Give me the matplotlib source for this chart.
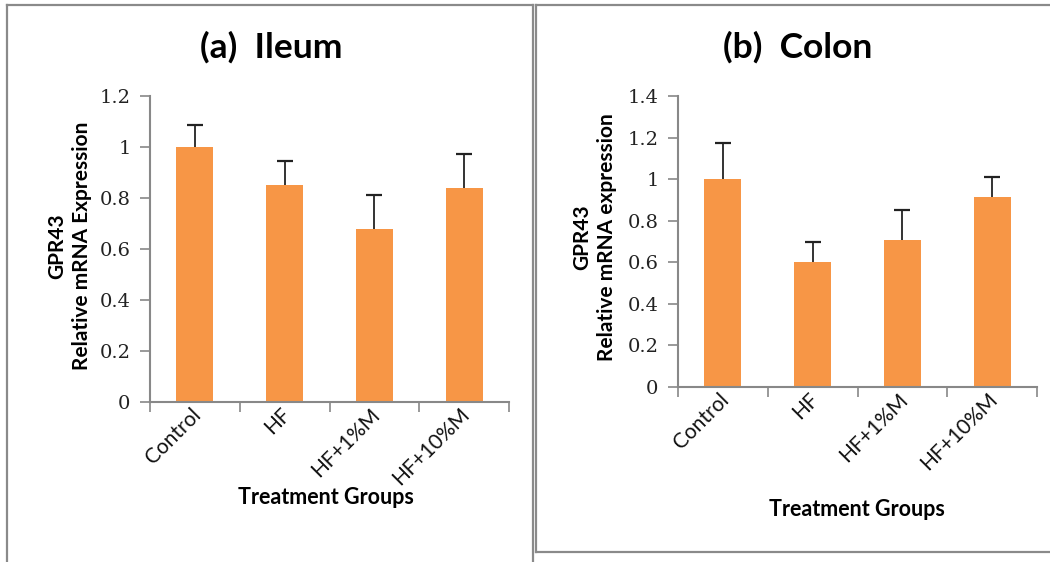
import numpy as np
import matplotlib
matplotlib.use("Agg")
import matplotlib.pyplot as plt
from matplotlib.lines import Line2D

groups = ["Control", "HF", "HF+1%M", "HF+10%M"]

ileum_mean = [1.00, 0.85, 0.68, 0.84]
ileum_err = [0.085, 0.095, 0.133, 0.132]

colon_mean = [1.00, 0.60, 0.707, 0.914]
colon_err = [0.172, 0.10, 0.143, 0.095]

BAR = "#F79646"
GRID = "#888888"
W, H = 1050, 562
SANS = ["Lato", "DejaVu Sans"]
SERIF = ["DejaVu Serif"]


def fx(px):
    return px / W


def fy(py):
    return 1 - py / H


fig = plt.figure(figsize=(10.5, 5.62), dpi=100)


def panel(rect, means, errs, ymax, title, ylab, tcx, lx, ly, xlx, xly):
    ax = fig.add_axes(rect)
    x = np.arange(len(groups))
    means = np.array(means)
    errs = np.array(errs)
    ax.bar(x, means, width=0.41, color=BAR, zorder=2)
    # plus-only error bars, Excel style
    ax.vlines(x, means, means + errs, color="#333333", lw=1.4, zorder=3)
    ax.plot(x, means + errs, ls="none", marker="_", ms=11, mew=1.6,
            color="#222222", zorder=3)
    ax.set_xlim(-0.5, len(groups) - 0.5)
    ax.set_ylim(0, ymax)
    ticks = np.arange(0, ymax + 0.001, 0.2)
    ax.set_yticks(ticks)
    ax.set_yticklabels(["0" if v == 0 else ("1" if abs(v - 1) < 1e-9 else f"{v:.1f}")
                        for v in ticks],
                       family=SERIF, fontsize=14, color="#222222")
    ax.tick_params(axis="y", length=7, width=1.2, color=GRID, pad=7)
    # boundary ticks on x, category labels without ticks
    ax.set_xticks(np.arange(-0.5, len(groups)))
    ax.set_xticklabels([])
    ax.tick_params(axis="x", length=7, width=1.2, color=GRID)
    for i, g in enumerate(groups):
        ax.annotate(g, xy=(i, 0), xycoords="data", xytext=(2, -7),
                    textcoords="offset points", rotation=45, ha="right",
                    va="center", rotation_mode="anchor", family=SANS,
                    fontsize=15, color="#111111")
    for s in ["top", "right"]:
        ax.spines[s].set_visible(False)
    for s in ["left", "bottom"]:
        ax.spines[s].set_color(GRID)
        ax.spines[s].set_linewidth(1.5)
    fig.text(fx(tcx), fy(47), title, ha="center", va="center",
             family=SANS, fontweight="bold", fontsize=25.5)
    fig.text(fx(lx), fy(ly), ylab, ha="center", va="center", rotation=90,
             multialignment="center", family=SANS, fontweight="bold",
             fontsize=15, linespacing=1.3)
    fig.text(fx(xlx), fy(xly), "Treatment Groups", ha="center", va="center",
             family=SANS, fontweight="bold", fontsize=15.5)
    return ax


panel([fx(150), fy(402), fx(359), 306 / H], ileum_mean, ileum_err, 1.2,
      "(a)  Ileum", "GPR43\nRelative mRNA Expression", 271, 70, 246, 326, 497)
panel([fx(678), fy(387), fx(359), 291 / H], colon_mean, colon_err, 1.4,
      "(b)  Colon", "GPR43\nRelative mRNA expression", 798, 595, 237, 857, 510)

# panel frames
frame = dict(color="#8a8a8a", lw=1.6, transform=fig.transFigure)
segs = [
    ((7, 7), (5, 562)), ((7, 533), (5, 5)), ((533, 533), (5, 562)),
    ((536, 536), (5, 552)), ((536, 1050), (5, 5)), ((536, 1050), (552, 552)),
]
for xs, ys in segs:
    fig.add_artist(Line2D([fx(v) for v in xs], [fy(v) for v in ys], **frame))

fig.savefig("out.png", dpi=100)
